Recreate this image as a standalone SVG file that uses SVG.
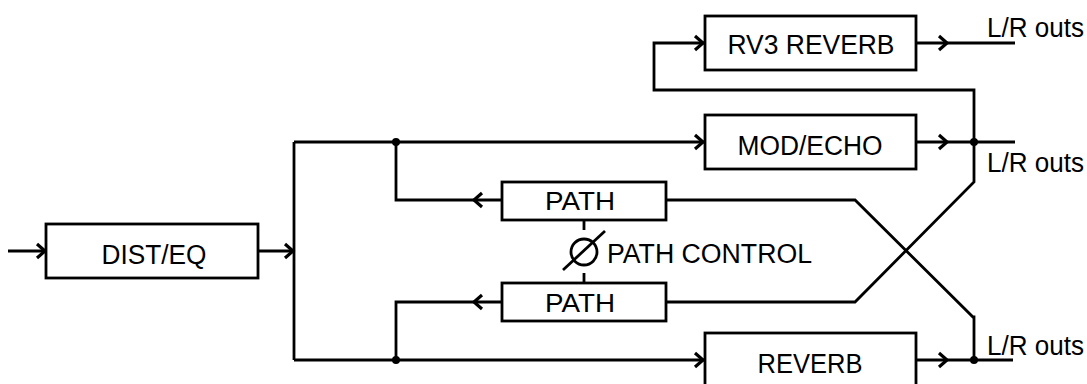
<svg xmlns="http://www.w3.org/2000/svg" xmlns:xlink="http://www.w3.org/1999/xlink" width="1087" height="384" viewBox="0 0 1087 384">
<style>
  .box { fill: #fff; stroke: #000; stroke-width: 2.8; }
  .wire { fill: none; stroke: #000; stroke-width: 2.8; stroke-linejoin: miter; }
  .ah { fill: none; stroke: #000; stroke-width: 3.2; stroke-linejoin: miter; stroke-linecap: butt; }
  .dot { fill: #000; }
  .lbl { font-family: "Liberation Sans", Arial, sans-serif; font-size: 27px; fill: #000; }
  .mid { text-anchor: middle; }
  .small { font-size: 25px; }
</style>
<defs>
  <path id="ah" class="ah" d="M-8,-7 L0,0 L-8,7"/>
</defs>
<rect width="1087" height="384" fill="#fff"/>

<g id="connectors">
  <path class="wire" d="M8,251 H44"/>
  <path class="wire" d="M258,251 H294"/>
  <path class="wire" d="M294,142 V360"/>
  <path class="wire" d="M294,142 H704"/>
  <path class="wire" d="M294,360 H704"/>
  <path class="wire" d="M704,43 H654 V90 H974 V182 L855,302 H666"/>
  <path class="wire" d="M666,200 H855 L973,317 L974,317 V360"/>
  <path class="wire" d="M916,43 H1015"/>
  <path class="wire" d="M916,142 H1015"/>
  <path class="wire" d="M916,360 H1013"/>
  <path class="wire" d="M502,200 H396 V142"/>
  <path class="wire" d="M502,302 H396 V360"/>
  <circle class="dot" cx="396" cy="142" r="4"/>
  <circle class="dot" cx="396" cy="360" r="4"/>
  <circle class="dot" cx="974" cy="142" r="4"/>
  <circle class="dot" cx="974" cy="360" r="4"/>
  <use xlink:href="#ah" href="#ah" transform="translate(45,251)"/>
  <use xlink:href="#ah" href="#ah" transform="translate(293,251)"/>
  <use xlink:href="#ah" href="#ah" transform="translate(703,43)"/>
  <use xlink:href="#ah" href="#ah" transform="translate(947,43)"/>
  <use xlink:href="#ah" href="#ah" transform="translate(703,142)"/>
  <use xlink:href="#ah" href="#ah" transform="translate(947,142)"/>
  <use xlink:href="#ah" href="#ah" transform="translate(703,360)"/>
  <use xlink:href="#ah" href="#ah" transform="translate(947,360)"/>
  <use xlink:href="#ah" href="#ah" transform="translate(474,200) rotate(180)"/>
  <use xlink:href="#ah" href="#ah" transform="translate(474,302) rotate(180)"/>
</g>

<g id="dist-eq">
  <rect class="box" x="46" y="224" width="212" height="54"/>
  <text class="lbl mid" x="154" y="264" textLength="105" lengthAdjust="spacingAndGlyphs">DIST/EQ</text>
</g>

<g id="rv3-reverb">
  <rect class="box" x="705" y="16" width="211" height="54"/>
  <text class="lbl mid" x="811" y="54" textLength="167" lengthAdjust="spacingAndGlyphs">RV3 REVERB</text>
</g>

<g id="mod-echo">
  <rect class="box" x="705" y="115" width="211" height="54"/>
  <text class="lbl mid" x="810" y="155" textLength="145" lengthAdjust="spacingAndGlyphs">MOD/ECHO</text>
</g>

<g id="reverb">
  <rect class="box" x="705" y="333" width="211" height="54"/>
  <text class="lbl mid" x="810" y="373" textLength="105" lengthAdjust="spacingAndGlyphs">REVERB</text>
</g>

<g id="path-top">
  <rect class="box" x="502" y="182" width="164" height="38"/>
  <text class="lbl small mid" x="580" y="210" textLength="70" lengthAdjust="spacingAndGlyphs">PATH</text>
</g>

<g id="path-bottom">
  <rect class="box" x="502" y="283" width="164" height="38"/>
  <text class="lbl small mid" x="580" y="312" textLength="70" lengthAdjust="spacingAndGlyphs">PATH</text>
</g>

<g id="path-control">
  <path class="wire" d="M584,221 V230 M584,273 V282"/>
  <circle cx="584" cy="252" r="13" fill="none" stroke="#000" stroke-width="2.8"/>
  <path class="wire" d="M563,270 L605,231"/>
  <text class="lbl" x="607" y="263" textLength="205" lengthAdjust="spacingAndGlyphs">PATH CONTROL</text>
</g>

<g id="outs">
  <text class="lbl" x="987" y="37" textLength="97" lengthAdjust="spacingAndGlyphs">L/R outs</text>
  <text class="lbl" x="987" y="172" textLength="97" lengthAdjust="spacingAndGlyphs">L/R outs</text>
  <text class="lbl" x="987" y="355" textLength="97" lengthAdjust="spacingAndGlyphs">L/R outs</text>
</g>
</svg>
